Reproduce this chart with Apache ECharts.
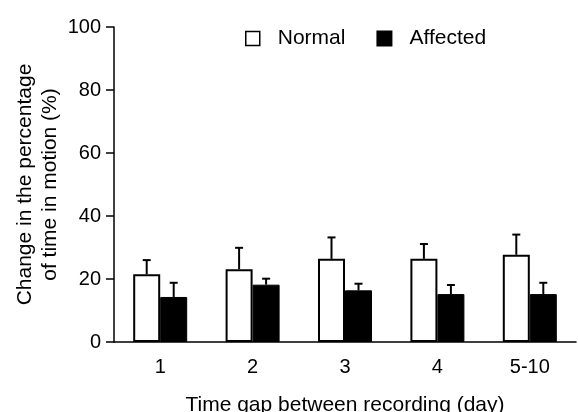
<!DOCTYPE html>
<html>
<head>
<meta charset="utf-8">
<script src="https://cdn.jsdelivr.net/npm/echarts@6/dist/echarts.min.js"></script>
<style>
  html, body { margin: 0; padding: 0; background: #fff; }
  #chart { width: 578px; height: 412px; }
</style>
</head>
<body>
<div id="chart"></div>
<script>
// data
var categories = ['1', '2', '3', '4', '5-10'];
var normalMean = [21.5, 23.1, 26.4, 26.4, 27.7];
var normalErr = [4.5, 6.8, 6.8, 4.7, 6.4];
var affectedMean = [14.3, 18.2, 16.4, 15.2, 15.2];
var affectedErr = [4.5, 1.9, 2.1, 2.9, 3.6];
var yTicks = [0, 20, 40, 60, 80, 100];

var font = 'Liberation Sans, Arial, sans-serif';
var barW = 27;

function errData(mean, err) {
    return mean.map(function (m, i) { return [i, m, err[i]]; });
}

// error bar (upper whisker only) drawn through the axis scale
function errRender(offset) {
    return function (params, api) {
        var i = api.value(0);
        var base = api.coord([i, api.value(1)]);
        var top = api.coord([i, api.value(1) + api.value(2)]);
        var x = base[0] + offset;
        var st = { stroke: '#000', lineWidth: 2 };
        return {
            type: 'group',
            children: [
                { type: 'line', shape: { x1: x, y1: base[1], x2: x, y2: top[1] }, style: st },
                { type: 'line', shape: { x1: x - 4, y1: top[1], x2: x + 4, y2: top[1] }, style: st }
            ]
        };
    };
}

var myChart = echarts.init(document.getElementById('chart'));

var option = {
    animation: false,
    textStyle: { fontFamily: font, color: '#000' },
    legend: {
        left: 245,
        top: 28,
        padding: 0,
        icon: 'rect',
        itemWidth: 14,
        itemHeight: 14,
        itemGap: 31,
        formatter: function (name) { return '{t|' + name + '}'; },
        textStyle: {
            fontSize: 21, color: '#000', fontFamily: font,
            rich: { t: { fontSize: 21, color: '#000', fontFamily: font, padding: [0, 0, 0, 13] } }
        },
        data: [
            { name: 'Normal', itemStyle: { color: '#fff', borderColor: '#000', borderWidth: 1.5 } },
            { name: 'Affected', itemStyle: { color: '#000' } }
        ]
    },
    grid: { left: 114, right: 2, top: 27, bottom: 70, containLabel: false, outerBoundsMode: 'none' },
    xAxis: {
        type: 'category',
        data: categories,
        name: 'Time gap between recording (day)',
        nameLocation: 'middle',
        nameGap: 53,
        nameMoveOverlap: false,
        nameTextStyle: { fontSize: 21, color: '#000', fontFamily: font },
        axisLine: { lineStyle: { color: '#000', width: 1.5 } },
        axisTick: { length: 6, lineStyle: { color: '#000', width: 1.5 } },
        axisLabel: { fontSize: 20, color: '#000', margin: 15, fontFamily: font }
    },
    yAxis: {
        type: 'value',
        min: yTicks[0],
        max: yTicks[yTicks.length - 1],
        interval: yTicks[1] - yTicks[0],
        name: 'Change in the percentage\nof time in motion (%)',
        nameLocation: 'middle',
        nameGap: 51,
        nameMoveOverlap: false,
        nameTextStyle: { fontSize: 21, lineHeight: 25, color: '#000', fontFamily: font },
        splitLine: { show: false },
        axisLine: { show: true, lineStyle: { color: '#000', width: 1.5 } },
        axisTick: { show: true, length: 8, lineStyle: { color: '#000', width: 1.5 } },
        axisLabel: { fontSize: 20, color: '#000', margin: 13, fontFamily: font }
    },
    series: [
        {
            name: 'Normal',
            type: 'bar',
            data: normalMean,
            barWidth: barW,
            barGap: '0%',
            itemStyle: { color: '#fff', borderColor: '#000', borderWidth: 2 }
        },
        {
            name: 'Affected',
            type: 'bar',
            data: affectedMean,
            barWidth: barW,
            barGap: '0%',
            itemStyle: { color: '#000', borderColor: '#000', borderWidth: 1 }
        },
        {
            name: 'NormalErr',
            type: 'custom',
            data: errData(normalMean, normalErr),
            encode: { x: 0, y: 1 },
            renderItem: errRender(-barW / 2),
            z: 3
        },
        {
            name: 'AffectedErr',
            type: 'custom',
            data: errData(affectedMean, affectedErr),
            encode: { x: 0, y: 1 },
            renderItem: errRender(barW / 2),
            z: 3
        }
    ]
};

myChart.setOption(option);
</script>
</body>
</html>
